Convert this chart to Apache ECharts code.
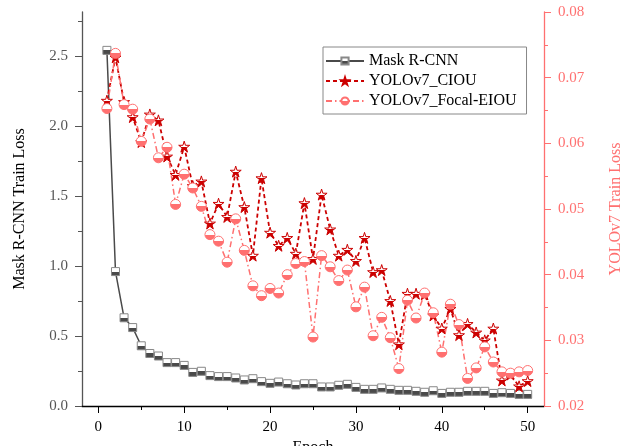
<!DOCTYPE html>
<html>
<head>
<meta charset="utf-8">
<script src="https://cdn.jsdelivr.net/npm/echarts@6/dist/echarts.min.js"></script>
<style>html,body{margin:0;padding:0;background:#fff}#c{width:623px;height:446px}</style>
</head>
<body>
<div id="c"></div>
<script>
const epochs = Array.from({length: 50}, (_, i) => i + 1);
const maskRCNN = [2.54, 0.96, 0.63, 0.56, 0.43, 0.375, 0.357, 0.31, 0.31, 0.29, 0.24, 0.248, 0.217, 0.21, 0.21, 0.20, 0.186, 0.195, 0.174, 0.162, 0.171, 0.159, 0.15, 0.159, 0.159, 0.136, 0.136, 0.148, 0.155, 0.133, 0.119, 0.119, 0.129, 0.119, 0.112, 0.112, 0.105, 0.098, 0.109, 0.09, 0.098, 0.098, 0.105, 0.105, 0.105, 0.09, 0.095, 0.09, 0.083, 0.083];
const yoloCIOU = [0.0665, 0.0731, 0.0663, 0.0640, 0.0602, 0.0644, 0.0635, 0.0580, 0.0552, 0.0595, 0.0535, 0.0542, 0.0478, 0.0508, 0.0488, 0.0557, 0.0503, 0.0429, 0.0547, 0.0464, 0.0444, 0.0456, 0.0432, 0.0509, 0.0424, 0.0522, 0.0469, 0.0429, 0.0438, 0.0421, 0.0456, 0.0404, 0.0407, 0.0360, 0.0294, 0.0371, 0.0371, 0.0370, 0.0338, 0.0318, 0.0348, 0.0308, 0.0325, 0.0312, 0.0300, 0.0318, 0.0239, 0.0248, 0.0230, 0.0238];
const yoloFocalEIOU = [0.0653, 0.0737, 0.0659, 0.0652, 0.0603, 0.0637, 0.0578, 0.0594, 0.0507, 0.0553, 0.0532, 0.0504, 0.0461, 0.0451, 0.0419, 0.0485, 0.0437, 0.0383, 0.0368, 0.0379, 0.0372, 0.0400, 0.0417, 0.0420, 0.0305, 0.0429, 0.0412, 0.0391, 0.0407, 0.0351, 0.0381, 0.0307, 0.0335, 0.0304, 0.0257, 0.0361, 0.0334, 0.0372, 0.0342, 0.0282, 0.0355, 0.0324, 0.0242, 0.0258, 0.0290, 0.0267, 0.0252, 0.0250, 0.0252, 0.0254];
const xMajorTicks = [0, 10, 20, 30, 40, 50];
const xMinorTicks = [5, 15, 25, 35, 45];
const yLeftMajorTicks = [0, 0.5, 1.0, 1.5, 2.0, 2.5];
const yLeftMinorTicks = [0.25, 0.75, 1.25, 1.75, 2.25, 2.75];

const C_MASK = '#4a4a4a', C_CIOU = '#cc0000', C_FOCAL = '#ff7070';
const FONT = 'Liberation Serif';
function half(c) {
  return {type: 'linear', x: 0, y: 0, x2: 0, y2: 1, colorStops: [
    {offset: 0, color: '#ffffff'}, {offset: 0.5, color: '#ffffff'},
    {offset: 0.5, color: c}, {offset: 1, color: c}]};
}
const pairs = (arr) => epochs.map((e, i) => [e, arr[i]]);

const chart = echarts.init(document.getElementById('c'), null, {renderer: 'canvas'});
chart.setOption({
  animation: false,
  backgroundColor: '#fff',
  grid: {left: 82, right: 79, top: 12, bottom: 40, containLabel: false, outerBoundsMode: 'none'},
  legend: {
    orient: 'vertical', left: 323, top: 47,
    padding: [6, 10, 5, 2], itemGap: 4, itemWidth: 38, itemHeight: 9, itemTextGap: 5,
    borderColor: '#888', borderWidth: 1,
    textStyle: {fontFamily: FONT, fontSize: 16, color: '#000'},
    data: ['Mask R-CNN', 'YOLOv7_CIOU', 'YOLOv7_Focal-EIOU']
  },
  xAxis: [{
    type: 'value', min: -1.9, max: 51.9,
    name: 'Epoch', nameLocation: 'middle', nameGap: 27,
    nameTextStyle: {fontFamily: FONT, fontSize: 16, color: '#000'},
    axisLine: {show: true, onZero: false, lineStyle: {color: '#000', width: 1.3}},
    axisTick: {show: true, length: 7, lineStyle: {color: '#000'}, customValues: xMajorTicks},
    axisLabel: {fontFamily: FONT, fontSize: 15, color: '#000', margin: 14, customValues: xMajorTicks},
    splitLine: {show: false}
  }, {
    type: 'value', min: -1.9, max: 51.9, position: 'bottom', offset: 0,
    axisLine: {show: false, onZero: false},
    axisTick: {show: true, length: 4, lineStyle: {color: '#000'}, customValues: xMinorTicks},
    axisLabel: {show: false}, splitLine: {show: false}
  }],
  yAxis: [{
    type: 'value', position: 'left', min: 0, max: 2.814, interval: 0.5,
    name: 'Mask R-CNN Train Loss', nameLocation: 'middle', nameGap: 54, nameRotate: 90,
    nameTextStyle: {fontFamily: FONT, fontSize: 16, color: '#000'},
    axisLine: {show: true, onZero: false, lineStyle: {color: '#555', width: 1.3}},
    axisTick: {show: true, length: 7, lineStyle: {color: '#555'}, customValues: yLeftMajorTicks},
    axisLabel: {fontFamily: FONT, fontSize: 15, color: '#555', margin: 14, customValues: yLeftMajorTicks,
      formatter: v => v.toFixed(1)},
    splitLine: {show: false}
  }, {
    type: 'value', position: 'right', min: 0.02, max: 0.08, interval: 0.01,
    name: 'YOLOv7 Train Loss', nameLocation: 'middle', nameGap: 64, nameRotate: 90,
    nameTextStyle: {fontFamily: FONT, fontSize: 16, color: C_FOCAL},
    axisLine: {show: true, onZero: false, lineStyle: {color: C_FOCAL, width: 1.3}},
    axisTick: {show: true, length: 7, lineStyle: {color: C_FOCAL}},
    minorTick: {show: true, splitNumber: 2, length: 4, lineStyle: {color: C_FOCAL}},
    axisLabel: {fontFamily: FONT, fontSize: 15, color: C_FOCAL, margin: 14, formatter: v => v.toFixed(2)},
    splitLine: {show: false}
  }, {
    type: 'value', position: 'left', offset: 0, min: 0, max: 2.814,
    axisLine: {show: false, onZero: false},
    axisTick: {show: true, length: 4, lineStyle: {color: '#555'}, customValues: yLeftMinorTicks},
    axisLabel: {show: false}, splitLine: {show: false}
  }],
  series: [{
    name: 'Mask R-CNN', type: 'line', xAxisIndex: 0, yAxisIndex: 0,
    data: pairs(maskRCNN), symbol: 'rect', symbolSize: 8,
    lineStyle: {color: C_MASK, width: 1.5},
    itemStyle: {color: half(C_MASK), borderColor: '#888', borderWidth: 1}
  }, {
    name: 'YOLOv7_CIOU', type: 'line', xAxisIndex: 0, yAxisIndex: 1,
    data: pairs(yoloCIOU), symbol: 'path://M50,0 L61,35 L98,35 L68,57 L79,92 L50,70 L21,92 L32,57 L2,35 L39,35 Z', symbolSize: 11,
    lineStyle: {color: C_CIOU, width: 1.8, type: [4, 3]},
    itemStyle: {color: half(C_CIOU), borderColor: C_CIOU, borderWidth: 1}
  }, {
    name: 'YOLOv7_Focal-EIOU', type: 'line', xAxisIndex: 0, yAxisIndex: 1,
    data: pairs(yoloFocalEIOU), symbol: 'circle', symbolSize: 10,
    lineStyle: {color: C_FOCAL, width: 1.5, type: [6, 3, 1.5, 3]},
    itemStyle: {color: half(C_FOCAL), borderColor: C_FOCAL, borderWidth: 1}
  }]
});
</script>
</body>
</html>
